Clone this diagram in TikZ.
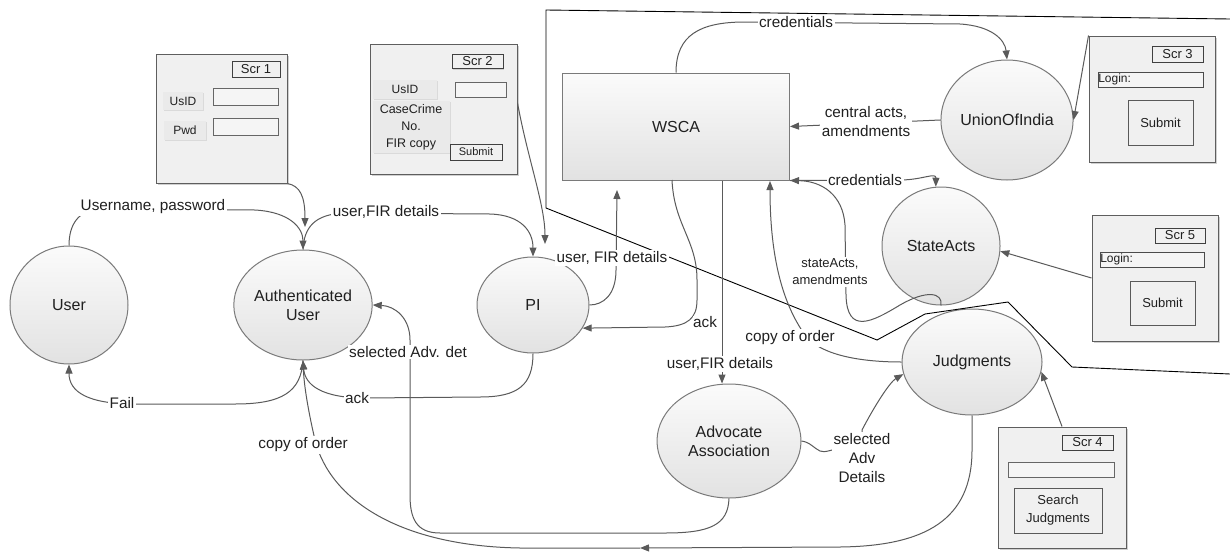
\documentclass[tikz,border=0pt]{standalone}
\usepackage{fontspec}
\setmainfont{Liberation Sans}
\usetikzlibrary{shapes.geometric,arrows.meta,shadows}

\definecolor{linec}{HTML}{5A5A5A}
\definecolor{nodeedge}{HTML}{7A7A7A}
\definecolor{nodetop}{HTML}{FBFBFB}
\definecolor{nodebot}{HTML}{E2E2E2}
\definecolor{txt}{HTML}{202020}
\definecolor{scrfill}{HTML}{F0F0F0}
\definecolor{scredge}{HTML}{5E5E5E}
\definecolor{btnfill}{HTML}{EAEAEA}
\definecolor{fieldfill}{HTML}{F5F5F5}

\newcommand\pxfont[2]{\fontsize{#1}{#2}\selectfont}

\tikzset{
  proc/.style={ellipse, draw=nodeedge, line width=1pt, top color=nodetop,
    bottom color=nodebot, text=txt, align=center, inner sep=0pt,
    font=\pxfont{16}{19}},
  wscabox/.style={rectangle, draw=nodeedge, line width=1pt, top color=nodetop,
    bottom color=nodebot, text=txt, inner sep=0pt,
    minimum width=227pt, minimum height=107pt, font=\pxfont{16}{19}},
  conn/.style={draw=linec, line width=1pt, -{Triangle[length=9pt,width=7pt]}},
  lbl/.style={fill=white, text=txt, inner sep=1.5pt, align=center,
    font=\pxfont{15.3}{19}},
  smalllbl/.style={lbl, font=\pxfont{13}{17}},
  bound/.style={draw=black, line width=0.9pt},
  screen/.style={rectangle, draw=scredge, fill=scrfill, line width=1pt,
    inner sep=0pt, drop shadow={shadow xshift=1.5pt, shadow yshift=-1.5pt,
    fill=black!30, opacity=0.6}},
  tag/.style={rectangle, draw=black!75, fill=scrfill, line width=1pt,
    inner sep=0pt, text=txt, font=\pxfont{13}{15},
    drop shadow={shadow xshift=1pt, shadow yshift=-1pt, fill=black!30, opacity=0.5}},
  btn/.style={rectangle, fill=btnfill, inner sep=0pt, text=txt, align=center,
    font=\pxfont{12}{16},
    drop shadow={shadow xshift=1.2pt, shadow yshift=-1.2pt, fill=black!20, opacity=0.6}},
  field/.style={rectangle, draw=black!60, fill=fieldfill, line width=0.9pt,
    inner sep=0pt, text=txt, font=\pxfont{12}{15},
    drop shadow={shadow xshift=1pt, shadow yshift=-1pt, fill=black!20, opacity=0.5}},
  bigbtn/.style={rectangle, draw=black!65, fill=scrfill, line width=1pt,
    inner sep=0pt, text=txt, align=center, font=\pxfont{13}{18},
    drop shadow={shadow xshift=1.2pt, shadow yshift=-1.2pt, fill=black!30, opacity=0.6}},
}

\begin{document}
\begin{tikzpicture}[x=1pt,y=-1pt]
\useasboundingbox[fill=white] (0,0) rectangle (1230,554);

% ---------- processes ----------
\node[proc, minimum width=118pt, minimum height=118pt] (user) at (69,305) {User};
\node[proc, minimum width=132pt, minimum height=110pt] (auth) at (303,305) {Authenticated\\User};
\node[proc, minimum width=112pt, minimum height=96pt] (pi) at (533,305) {PI};
\node[wscabox] (wsca) at (676,126.5) {WSCA};
\node[proc, minimum width=120pt, minimum height=120pt] (union) at (1007,120) {UnionOfIndia};
\node[proc, minimum width=118pt, minimum height=118pt] (stacts) at (941,246) {StateActs};
\node[proc, minimum width=140pt, minimum height=106pt] (judg) at (972,362) {Judgments};
\node[proc, minimum width=144pt, minimum height=114pt] (adv) at (729,441) {Advocate\\Association};

% ---------- screens ----------
% Scr 1
\node[screen, minimum width=131pt, minimum height=129pt] (scr1) at (221.5,118.5) {};
\node[tag, minimum width=48pt, minimum height=16pt] (scr1t) at (256,69) {Scr 1};
\node[btn, minimum width=40pt, minimum height=18pt] (scr1u) at (183,101) {UsID};
\node[field, minimum width=65pt, minimum height=17pt] (scr1uf) at (245.5,96.5) {};
\node[btn, minimum width=42pt, minimum height=19pt] (scr1p) at (185,130.5) {Pwd};
\node[field, minimum width=65pt, minimum height=17pt] (scr1pf) at (245.5,126.5) {};

% Scr 2
\node[screen, minimum width=147pt, minimum height=130pt] (scr2) at (443.5,109) {};
\node[tag, minimum width=51pt, minimum height=14pt] (scr2t) at (477.5,61.5) {Scr 2};
\node[btn, minimum width=64pt, minimum height=19pt] (scr2u) at (405,89.5) {UsID};
\node[field, minimum width=51pt, minimum height=15pt] (scr2uf) at (480.5,89.5) {};
\node[btn, minimum width=77pt, minimum height=52pt, font=\pxfont{12.5}{17}] (scr2c) at (411,127) {CaseCrime\\No.\\FIR copy};
\node[tag, minimum width=52pt, minimum height=16pt, font=\pxfont{11}{13}] (scr2s) at (476,152) {Submit};

% Scr 3
\node[screen, minimum width=126pt, minimum height=126pt] (scr3) at (1152,99) {};
\node[tag, minimum width=51pt, minimum height=16pt] (scr3t) at (1177.5,54) {Scr 3};
\node[field, minimum width=105pt, minimum height=15pt, draw=black!70] (scr3l) at (1150.5,79.5) {};
\node[anchor=west, inner sep=0.5pt, text=txt, font=\pxfont{12}{15}] (scr3lt) at (scr3l.west) {Login:};
\node[bigbtn, minimum width=65pt, minimum height=45pt] (scr3s) at (1160.5,122.5) {Submit};

% Scr 5
\node[screen, minimum width=126pt, minimum height=126pt] (scr5) at (1155,278) {};
\node[tag, minimum width=50pt, minimum height=15pt] (scr5t) at (1180,235.5) {Scr 5};
\node[field, minimum width=104pt, minimum height=15pt, draw=black!70] (scr5l) at (1152,259.5) {};
\node[anchor=west, inner sep=0.5pt, text=txt, font=\pxfont{12}{15}] (scr5lt) at (scr5l.west) {Login:};
\node[bigbtn, minimum width=65pt, minimum height=44pt] (scr5s) at (1162.5,303) {Submit};

% Scr 4
\node[screen, minimum width=128pt, minimum height=121pt] (scr4) at (1062,487.5) {};
\node[tag, minimum width=51pt, minimum height=15pt] (scr4t) at (1087.5,442.5) {Scr 4};
\node[field, minimum width=106pt, minimum height=15pt] (scr4f) at (1061,469.5) {};
\node[bigbtn, minimum width=88pt, minimum height=45pt] (scr4s) at (1058,510.5) {Search\\Judgments};

% ---------- system boundary ----------
\draw[bound] (1230,19) -- (546,10) -- (546,208) -- (877,340) -- (925,314)
  -- (1008,302) -- (1072,367) -- (1230,374);

% ---------- data flows ----------
\coordinate (s1tip) at (305,227);
\coordinate (s2tip) at (545,244);
\coordinate (w1) at (617,190);
\coordinate (w2) at (672,180);
\coordinate (w3) at (770,181);
\coordinate (cmid) at (640,548);

\draw[conn] (user.north) .. controls (69,225) and (78,210) .. (100,209) -- (255,210)
  .. controls (290,212) and (303,228) .. (auth.north);
\node[lbl] (l1) at (153,207) {Username, password};

\draw[conn] (scr1.south east) .. controls (300,186) and (305,196) .. (s1tip);

\draw[conn] (auth.north) .. controls (304,228) and (314,214) .. (345,213) -- (490,214)
  .. controls (522,215) and (533,232) .. (pi.north);
\node[lbl] (l2) at (386,212) {user,FIR details};

\draw[conn] ([yshift=6pt]scr2.east) .. controls (528,160) and (545,205) .. (s2tip);

\draw[conn] (pi.east) .. controls (603,305) and (616,295) .. (616,270) -- (w1);
\node[lbl] (l3) at (612,258) {user, FIR details};

\draw[conn] (w2) .. controls (674,225) and (697,240) .. (697,280) -- (697,300)
  .. controls (697,318) and (688,326) .. (665,327) -- (pi.-25);
\node[lbl, inner sep=0.5pt] (l4) at (705,322) {ack};

\draw[conn] ([xshift=46pt]wsca.south) -- ([xshift=-7pt]adv.north);
\node[lbl] (l5) at (720,364) {user,FIR details};

\draw[conn] (judg.west) .. controls (860,362) and (820,355) .. (805,335)
  .. controls (780,300) and (770,250) .. (w3);
\node[lbl] (l6) at (790,338) {copy of order};

\draw[conn] (stacts.south) .. controls (943,292) and (926,290) .. (900,305)
  .. controls (872,322) and (847,335) .. (846,295) -- (845,225)
  .. controls (843,195) and (822,181) .. (wsca.south east);
\node[smalllbl] (l7) at (830,272) {stateActs,\\amendments};

\draw[conn] (wsca.south east) -- (900,180) .. controls (922,180) and (936,172) .. (stacts.95);
\node[lbl] (l8) at (865,180) {credentials};

\draw[conn] (wsca.north) .. controls (676,35) and (700,22) .. (745,22) -- (960,24)
  .. controls (992,26) and (1005,40) .. (union.north);
\node[lbl] (l9) at (796,22) {credentials};

\draw[conn] (union.west) -- (wsca.east);
\node[lbl] (l10) at (866,122) {central acts,\\amendments};

\draw[conn] (scr3.north west) -- (union.east);
\draw[conn] (scr5.west) -- (stacts.-5);
\draw[conn] (scr4.north) -- (judg.-8);

\draw[conn] (adv.east) .. controls (810,442) and (815,449) .. (820,451)
  .. controls (825,453) and (830,450) .. (845,447) -- (862,440) -- (862,430)
  .. controls (875,405) and (890,382) .. (judg.190);
\node[lbl] (l11) at (862,458) {selected\\Adv\\Details};

\draw[conn] (adv.south) .. controls (728,525) and (710,533) .. (665,533) -- (440,533)
  .. controls (416,533) and (410,518) .. (410,495) -- (410,340)
  .. controls (410,318) and (395,306) .. (auth.east);
\node[lbl] (l12) at (408,352) {selected Adv. det};

\draw[conn] (auth.south) .. controls (301,392) and (282,404) .. (235,404) -- (135,404)
  .. controls (88,404) and (69,392) .. (user.south);
\node[lbl] (l13) at (122,403) {Fail};

\draw[conn] (pi.south) .. controls (533,385) and (518,397) .. (480,397) -- (365,398)
  .. controls (322,398) and (305,385) .. (auth.south);
\node[lbl] (l14) at (357,398) {ack};

\draw[conn] (judg.south) -- (972,450) .. controls (972,520) and (925,546) .. (840,547) -- (cmid);
\draw[conn] (cmid) -- (520,548) .. controls (400,546) and (330,500) .. (315,440)
  .. controls (308,410) and (304,385) .. (auth.south);
\node[lbl] (l15) at (303,445) {copy of order};

\end{tikzpicture}
\end{document}
